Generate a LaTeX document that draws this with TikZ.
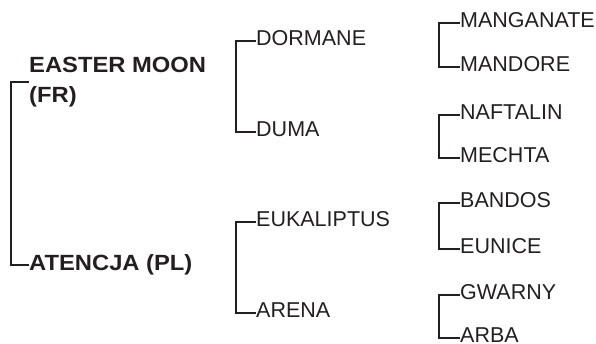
\documentclass[tikz,border=0pt]{standalone}
\usepackage{fontspec}
\setmainfont{Liberation Sans}
\definecolor{ink}{HTML}{231F20}

\begin{document}
\begin{tikzpicture}[x=1pt,y=-1pt,
	root/.style={anchor=west,inner sep=0pt,align=left,text=ink,font=\fontsize{22}{30.7}\selectfont\bfseries\addfontfeature{FakeStretch=1.08}},
	kid/.style={anchor=west,inner sep=0pt,text=ink,text height=9pt,text depth=0pt,font=\fontsize{21.5}{25}\selectfont},
	bracket/.style={draw=ink,line width=2pt}]
	\clip (0,0) rectangle (596,343);

	\node[root] (easter)  at (29, 82)  {EASTER MOON\\(FR)};
	\node[root] (atencja) at (29, 265) {ATENCJA (PL)};

	\node[kid] (dormane)    at (256, 41)  {DORMANE};
	\node[kid] (duma)       at (256, 132) {DUMA};
	\node[kid] (eukaliptus) at (256, 222) {EUKALIPTUS};
	\node[kid] (arena)      at (256, 313) {ARENA};

	\node[kid] (manganate) at (460, 23)  {MANGANATE};
	\node[kid] (mandore)   at (460, 67)  {MANDORE};
	\node[kid] (naftalin)  at (460, 115) {NAFTALIN};
	\node[kid] (mechta)    at (460, 158) {MECHTA};
	\node[kid] (bandos)    at (460, 203) {BANDOS};
	\node[kid] (eunice)    at (460, 249) {EUNICE};
	\node[kid] (gwarny)    at (460, 295) {GWARNY};
	\node[kid] (arba)      at (460, 338) {ARBA};

	\draw[bracket] (easter.west) -- ++(-18,0) |- (atencja.west);

	\draw[bracket] (dormane.west) -- ++(-20,0) |- (duma.west);
	\draw[bracket] (eukaliptus.west) -- ++(-20,0) |- (arena.west);

	\draw[bracket] (manganate.west) -- ++(-21,0) |- (mandore.west);
	\draw[bracket] (naftalin.west) -- ++(-21,0) |- (mechta.west);
	\draw[bracket] (bandos.west) -- ++(-21,0) |- (eunice.west);
	\draw[bracket] (gwarny.west) -- ++(-21,0) |- (arba.west);

\end{tikzpicture}
\end{document}
